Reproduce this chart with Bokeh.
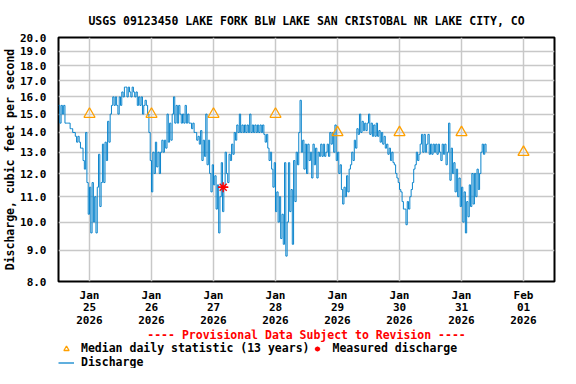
import pandas as pd
from bokeh.plotting import figure
from bokeh.layouts import column
from bokeh.models import (Range1d, FixedTicker, DatetimeTickFormatter, PrintfTickFormatter,
                          Legend, LegendItem, Label)
from bokeh.embed import file_html
from bokeh.resources import INLINE

# ---------------- data ----------------
title_text = "USGS 09123450 LAKE FORK BLW LAKE SAN CRISTOBAL NR LAKE CITY, CO"
y_label = "Discharge, cubic feet per second"
provisional_text = "---- Provisional Data Subject to Revision ----"

series_start = "2026-01-24 12:00"   # discharge sampled every 30 minutes
x_start = "2026-01-24 12:00"
x_end = "2026-02-01 12:00"

flow_jan24_noon = [15.5, 14.5, 15.5, 15.0, 15.5, 14.5, 14.5, 14.5, 14.5, 14.2, 14.2, 14.0,
                   14.0, 13.8, 13.5, 13.8, 13.5, 13.2, 13.2, 12.6, 12.2, 14.0, 11.6, 10.3,
                   11.4, 9.6, 11.6, 10.0, 11.0, 9.6, 11.4, 12.9, 10.6, 11.6, 13.4, 11.6,
                   13.5, 12.6, 14.6, 13.5, 15.0, 15.5, 16.0, 15.5, 16.0, 15.5, 15.0, 16.0]
flow_jan25_noon = [15.5, 16.3, 16.0, 16.6, 16.6, 16.0, 16.6, 16.3, 16.0, 16.6, 16.3, 16.0,
                   16.3, 15.5, 16.0, 15.5, 16.0, 15.0, 15.5, 15.8, 15.5, 15.0, 14.0, 12.6,
                   11.2, 13.0, 12.0, 13.5, 12.3, 13.0, 12.0, 13.0, 13.6, 13.0, 13.6, 13.2,
                   15.0, 13.5, 14.5, 13.6, 15.0, 16.0, 14.5, 15.5, 14.5, 15.5, 15.0, 14.5]
flow_jan26_noon = [15.0, 14.5, 15.5, 14.5, 15.0, 14.5, 14.5, 14.2, 14.5, 14.0, 14.0, 13.6,
                   13.8, 13.4, 14.1, 12.6, 13.6, 12.8, 15.0, 12.4, 13.6, 12.0, 11.2, 12.4,
                   11.5, 11.9, 10.5, 11.5, 9.6, 11.0, 12.5, 10.4, 11.4, 13.0, 12.0, 11.6,
                   12.9, 12.6, 13.4, 12.9, 14.0, 13.6, 14.4, 14.0, 15.0, 14.0, 14.4, 14.0]
flow_jan27_noon = [14.4, 14.0, 14.4, 14.0, 15.0, 14.0, 14.4, 14.0, 14.4, 14.0, 14.4, 14.0,
                   14.4, 14.0, 14.4, 13.9, 13.5, 13.9, 13.2, 12.6, 13.0, 12.2, 11.4, 12.5,
                   10.4, 11.2, 10.0, 11.0, 9.4, 10.3, 9.2, 12.5, 8.8, 10.0, 12.5, 10.4,
                   11.3, 9.2, 12.6, 10.8, 13.0, 12.4, 14.0, 15.8, 13.0, 13.6, 12.2, 13.4]
flow_jan28_noon = [12.0, 13.4, 12.6, 13.0, 11.8, 13.4, 12.4, 13.2, 11.8, 13.0, 12.8, 13.4,
                   12.8, 13.4, 12.8, 13.0, 13.4, 12.8, 14.0, 13.4, 14.0, 13.0, 14.4, 12.6,
                   13.0, 12.0, 12.4, 11.3, 10.7, 11.4, 11.0, 11.9, 11.2, 12.2, 12.4, 13.0,
                   12.6, 13.6, 13.2, 14.2, 13.9, 15.0, 14.0, 14.6, 14.1, 14.5, 14.1, 14.5]
flow_jan29_noon = [15.0, 13.9, 14.5, 13.8, 14.4, 13.8, 14.5, 13.8, 14.1, 13.5, 14.0, 13.4,
                   13.8, 13.2, 13.4, 12.9, 13.2, 12.6, 13.0, 12.5, 12.4, 12.0, 11.8, 11.6,
                   11.3, 11.2, 10.8, 10.5, 10.5, 9.9, 10.8, 10.5, 11.0, 11.3, 11.6, 12.2,
                   12.4, 13.0, 12.6, 12.9, 13.4, 13.9, 13.0, 13.9, 13.0, 13.4, 13.9, 12.9]
flow_jan30_noon = [13.4, 12.9, 13.4, 13.0, 13.4, 12.9, 13.4, 13.0, 12.6, 13.4, 12.9, 13.4,
                   12.4, 13.0, 14.5, 11.7, 13.2, 12.0, 12.5, 11.2, 12.2, 11.0, 11.8, 10.6,
                   11.4, 10.0, 11.2, 9.6, 10.8, 10.2, 11.5, 10.6, 12.0, 10.7, 12.0, 11.0,
                   12.2, 11.3, 12.0, 13.0, 13.4, 12.9, 13.4, 13.0]

median_dates = ["2026-01-25", "2026-01-26", "2026-01-27", "2026-01-28",
                "2026-01-29", "2026-01-30", "2026-01-31", "2026-02-01"]
median_values = [15.0, 15.0, 15.0, 15.0, 14.0, 14.0, 14.0, 13.0]

measured_times = ["2026-01-27 03:45"]
measured_values = [11.4]

y_ticks = [8, 9, 10, 11, 12, 13, 14, 15, 16, 17, 18, 19, 20]
x_tick_dates = median_dates

legend_labels = ["Median daily statistic (13 years)", "Measured discharge", "Discharge"]

# ---------------- styles ----------------
FONT = "DejaVu Sans Mono"
FS = "11.5px"
Q_COLOR = "#0A84CC"
MED_COLOR = "#FFA000"
MEAS_COLOR = "red"
W = 560
MAIN_H = 329
LEG_H = 39
FRAME_W = 496

# ---------------- main chart ----------------
flow = (flow_jan24_noon + flow_jan25_noon + flow_jan26_noon + flow_jan27_noon +
        flow_jan28_noon + flow_jan29_noon + flow_jan30_noon)
flow_times = pd.date_range(series_start, periods=len(flow), freq="30min")

p = figure(width=W, height=MAIN_H, x_axis_type="datetime", y_axis_type="log",
           x_range=Range1d(pd.Timestamp(x_start), pd.Timestamp(x_end)),
           y_range=Range1d(8, 20), output_backend="svg", toolbar_location=None,
           min_border_left=58, min_border_right=6, min_border_top=37,
           min_border_bottom=48)

p.background_fill_color = "white"
p.border_fill_color = "white"
p.outline_line_color = "black"
p.outline_line_width = 2

p.title.text = title_text
p.title.align = "center"
p.title.text_font = FONT
p.title.text_font_size = FS
p.title.text_font_style = "bold"
p.title.text_color = "black"
p.title.standoff = 20

p.yaxis.ticker = FixedTicker(ticks=y_ticks)
p.yaxis.formatter = PrintfTickFormatter(format="%.1f")
p.yaxis.axis_label = y_label
p.yaxis.axis_label_text_font = FONT
p.yaxis.axis_label_text_font_size = FS
p.yaxis.axis_label_text_font_style = "bold"
p.yaxis.axis_label_text_color = "black"
p.yaxis.axis_label_standoff = 0
p.yaxis.major_label_standoff = 6

x_ticks_ms = [pd.Timestamp(d).value / 1e6 for d in x_tick_dates]
p.xaxis.ticker = FixedTicker(ticks=x_ticks_ms)
fmt = "%b\n%d\n%Y"
p.xaxis.formatter = DatetimeTickFormatter(days=fmt, months=fmt, hours=fmt, years=fmt)
p.xaxis.major_label_standoff = 1
p.xaxis.major_label_text_line_height = 0.97

for ax in (p.xaxis, p.yaxis):
    ax.major_label_text_font = FONT
    ax.major_label_text_font_size = "11px"
    ax.major_label_text_font_style = "bold"
    ax.major_label_text_color = "black"
    ax.major_tick_line_color = None
    ax.minor_tick_line_color = None
    ax.axis_line_color = None

p.xgrid.grid_line_color = "#C8C8C8"
p.ygrid.grid_line_color = "#C8C8C8"
p.xgrid.grid_line_width = 1.5
p.ygrid.grid_line_width = 1.5
p.ygrid.minor_grid_line_color = None

p.step(flow_times, flow, mode="after", line_color=Q_COLOR, line_width=1.0)
p.scatter(pd.to_datetime(median_dates), median_values, marker="triangle", size=11,
          fill_color=None, line_color=MED_COLOR, line_width=1.3)
p.scatter(pd.to_datetime(measured_times), measured_values, marker="asterisk",
          size=10, line_color=MEAS_COLOR, line_width=1.4)
p.scatter(pd.to_datetime(measured_times), measured_values, marker="dash",
          size=10, line_color=MEAS_COLOR, line_width=1.4)

# ---------------- legend strip (frame aligned with the chart frame) ----------------
lg = figure(width=W, height=LEG_H, x_range=Range1d(0, 1), y_range=Range1d(0, 1),
            output_backend="svg", toolbar_location=None,
            x_axis_location=None, y_axis_location=None, min_border=0)
lg.outline_line_color = None
lg.grid.visible = False
lg.background_fill_color = "white"
lg.border_fill_color = "white"

nan = float("nan")
g_med = lg.scatter([nan], [nan], marker="triangle", size=11, fill_color=None,
                   line_color=MED_COLOR, line_width=1.3)
g_meas1 = lg.scatter([nan], [nan], marker="asterisk", size=10, line_color=MEAS_COLOR,
                     line_width=1.4)
g_meas2 = lg.scatter([nan], [nan], marker="dash", size=10, line_color=MEAS_COLOR,
                     line_width=1.4)
g_q = lg.line([nan, nan], [nan, nan], line_color=Q_COLOR, line_width=1.3)

lg.add_layout(Label(x=FRAME_W / 2, y=34, x_units="screen", y_units="screen",
                    text=provisional_text, text_align="center", text_baseline="middle",
                    text_color="red", text_font=FONT, text_font_size=FS,
                    text_font_style="bold"))

legend = Legend(items=[LegendItem(label=legend_labels[0], renderers=[g_med]),
                       LegendItem(label=legend_labels[1], renderers=[g_meas1, g_meas2]),
                       LegendItem(label=legend_labels[2], renderers=[g_q])],
                orientation="horizontal", nrows=2, location=(0, -1),
                margin=0, padding=0, spacing=0, label_standoff=7,
                glyph_width=16, glyph_height=13, label_height=13,
                border_line_color=None, background_fill_alpha=0,
                label_text_font=FONT, label_text_font_size=FS,
                label_text_font_style="bold", label_text_color="black")
lg.add_layout(legend, "center")

layout = column(p, lg, spacing=0)
open("out.html", "w").write(file_html(layout, INLINE))
